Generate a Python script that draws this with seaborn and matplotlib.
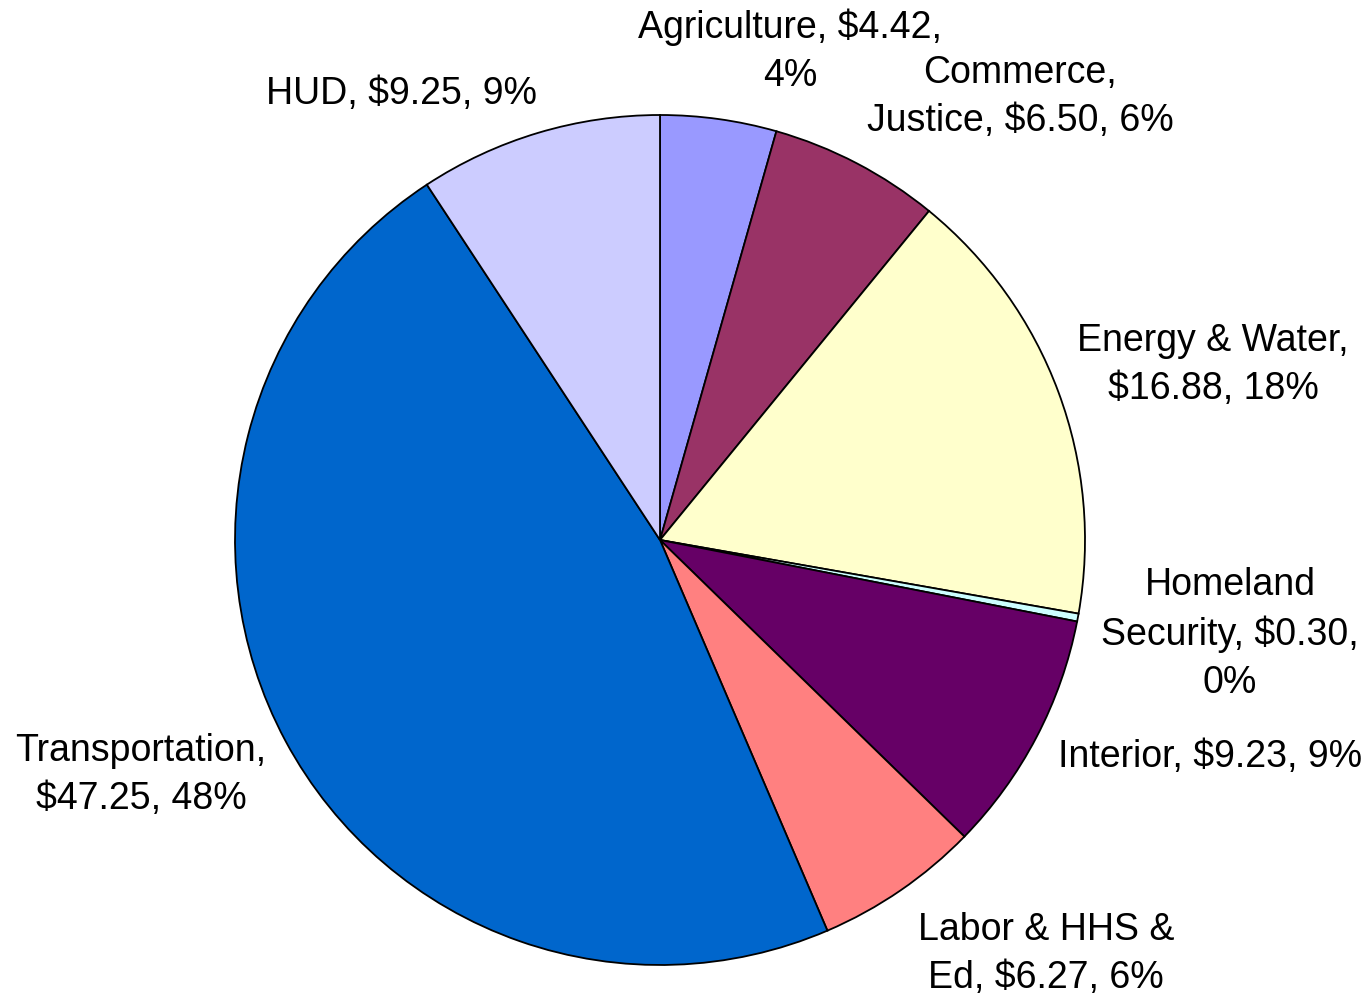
import matplotlib
matplotlib.use("Agg")
import matplotlib.pyplot as plt
import seaborn as sns

# slice data, clockwise from 12 o'clock
agencies = ["Agriculture", "Commerce, Justice", "Energy & Water", "Homeland Security",
            "Interior", "Labor & HHS & Ed", "Transportation", "HUD"]
amounts = [4.42, 6.50, 16.88, 0.30, 9.23, 6.27, 47.25, 9.25]
labels = ["Agriculture, $4.42,\n4%",
          "Commerce,\nJustice, $6.50, 6%",
          "Energy & Water,\n$16.88, 18%",
          "Homeland\nSecurity, $0.30,\n0%",
          "Interior, $9.23, 9%",
          "Labor & HHS &\nEd, $6.27, 6%",
          "Transportation,\n$47.25, 48%",
          "HUD, $9.25, 9%"]
colors = ["#9999FF", "#993366", "#FFFFCC", "#CCFFFF",
          "#660066", "#FF8080", "#0066CC", "#CCCCFF"]

# label centres in pixels (x, y from top)
label_pos = [(790, 51), (1020, 97), (1213, 365), (1230, 634),
             (1210, 757), (1046, 954), (141, 775), (401, 94)]

sns.set_style("white")
plt.rcParams['font.family'] = ['Liberation Sans', 'DejaVu Sans']

W, H = 1372, 994
fig = plt.figure(figsize=(W / 100, H / 100), dpi=100)
cx, cy, r = 660, 540, 425
ax = fig.add_axes([(cx - r) / W, (H - cy - r) / H, 2 * r / W, 2 * r / H])

ax.pie(amounts, colors=colors, startangle=90, counterclock=False, radius=1,
       wedgeprops=dict(edgecolor="black", linewidth=1.3))
ax.set_xlim(-1, 1)
ax.set_ylim(-1, 1)
ax.set_aspect("equal")
ax.axis("off")

for txt, (px, py) in zip(labels, label_pos):
    fig.text(px / W, 1 - py / H, txt, ha="center", va="center",
             fontsize=27, linespacing=1.42, color="black")

fig.savefig("out.png", dpi=100, facecolor="white")
